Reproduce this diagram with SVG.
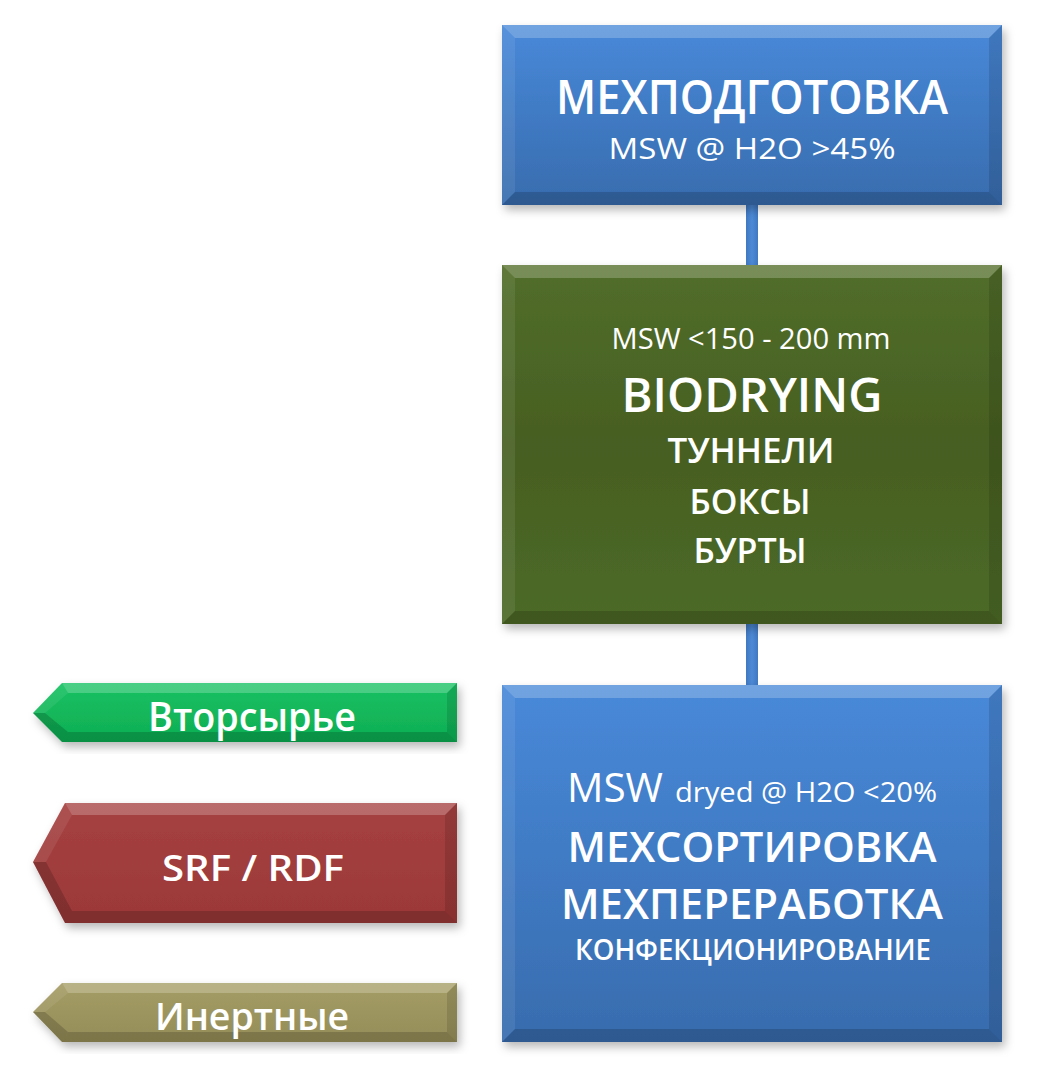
<svg xmlns="http://www.w3.org/2000/svg" width="1052" height="1089" viewBox="0 0 1052 1089">
<defs>
<filter id="sh" x="-10%" y="-10%" width="125%" height="130%">
<feDropShadow dx="3" dy="5" stdDeviation="5" flood-color="#000" flood-opacity="0.28"/>
</filter>
<linearGradient id="gBlue" x1="0" y1="0" x2="0" y2="1">
<stop offset="0" stop-color="#4889d9"/>
<stop offset="1" stop-color="#386cae"/>
</linearGradient>
<linearGradient id="gGreen" x1="0" y1="0" x2="0" y2="1">
<stop offset="0" stop-color="#526e2a"/>
<stop offset="0.5" stop-color="#465f22"/>
<stop offset="1" stop-color="#4d6a27"/>
</linearGradient>
<linearGradient id="gLime" x1="0" y1="0" x2="0" y2="1">
<stop offset="0" stop-color="#17c163"/>
<stop offset="1" stop-color="#0fae53"/>
</linearGradient>
<linearGradient id="gRed" x1="0" y1="0" x2="0" y2="1">
<stop offset="0" stop-color="#a64141"/>
<stop offset="1" stop-color="#9b3838"/>
</linearGradient>
<linearGradient id="gKhaki" x1="0" y1="0" x2="0" y2="1">
<stop offset="0" stop-color="#a59d66"/>
<stop offset="1" stop-color="#958d58"/>
</linearGradient>
<linearGradient id="gConn" x1="0" y1="0" x2="1" y2="0">
<stop offset="0" stop-color="#3f78c2"/>
<stop offset="0.5" stop-color="#4d8ad6"/>
<stop offset="1" stop-color="#3f78c2"/>
</linearGradient>
</defs>
<style>
.hi{fill:#ffffff;fill-opacity:0.22}
.hl{fill:#ffffff;fill-opacity:0.08}
.dr{fill:#000000;fill-opacity:0.12}
.db{fill:#000000;fill-opacity:0.17}
text{font-family:"Open Sans","Noto Sans","DejaVu Sans",sans-serif;fill:#ffffff;text-anchor:middle}
.r{font-weight:400}
.s{font-weight:600}
</style>
<rect width="1052" height="1089" fill="#ffffff"/>
<g id="connectors">
<rect x="746" y="205" width="12" height="60" fill="url(#gConn)"/>
<rect x="746" y="624" width="12" height="61" fill="url(#gConn)"/>
</g>
<g id="node-mechprep">
<rect x="502" y="25" width="500" height="180" fill="url(#gBlue)" filter="url(#sh)"/>
<polygon class="hi" points="502,25 1002,25 989,38 515,38"/>
<polygon class="hl" points="502,25 515,38 515,192 502,205"/>
<polygon class="dr" points="1002,25 1002,205 989,192 989,38"/>
<polygon class="db" points="502,205 1002,205 989,192 515,192"/>
<text class="s" x="752" y="114" font-size="47" textLength="392" lengthAdjust="spacingAndGlyphs">МЕХПОДГОТОВКА</text>
<text class="r" x="752" y="159" font-size="30" textLength="287" lengthAdjust="spacingAndGlyphs">MSW @ H2O &gt;45%</text>
</g>
<g id="node-biodrying">
<rect x="502" y="265" width="500" height="359" fill="url(#gGreen)" filter="url(#sh)"/>
<polygon class="hi" points="502,265 1002,265 989,278 515,278"/>
<polygon class="hl" points="502,265 515,278 515,611 502,624"/>
<polygon class="dr" points="1002,265 1002,624 989,611 989,278"/>
<polygon class="db" points="502,624 1002,624 989,611 515,611"/>
<text class="r" x="751" y="349" font-size="29" textLength="279" lengthAdjust="spacingAndGlyphs">MSW &lt;150 - 200 mm</text>
<text class="s" x="752" y="412" font-size="47" textLength="261" lengthAdjust="spacingAndGlyphs">BIODRYING</text>
<text class="s" x="751" y="463" font-size="35" textLength="167" lengthAdjust="spacingAndGlyphs">ТУННЕЛИ</text>
<text class="s" x="750" y="514" font-size="35" textLength="121" lengthAdjust="spacingAndGlyphs">БОКСЫ</text>
<text class="s" x="750" y="563" font-size="35" textLength="113" lengthAdjust="spacingAndGlyphs">БУРТЫ</text>
</g>
<g id="node-mechsort">
<rect x="502" y="685" width="500" height="357" fill="url(#gBlue)" filter="url(#sh)"/>
<polygon class="hi" points="502,685 1002,685 989,698 515,698"/>
<polygon class="hl" points="502,685 515,698 515,1029 502,1042"/>
<polygon class="dr" points="1002,685 1002,1042 989,1029 989,698"/>
<polygon class="db" points="502,1042 1002,1042 989,1029 515,1029"/>
<text class="r" x="615" y="802" font-size="40" textLength="96" lengthAdjust="spacingAndGlyphs">MSW</text>
<text class="r" x="806" y="802" font-size="28" textLength="262" lengthAdjust="spacingAndGlyphs">dryed @ H2O &lt;20%</text>
<text class="s" x="752" y="862" font-size="42" textLength="369" lengthAdjust="spacingAndGlyphs">МЕХСОРТИРОВКА</text>
<text class="s" x="752" y="919" font-size="41" textLength="382" lengthAdjust="spacingAndGlyphs">МЕХПЕРЕРАБОТКА</text>
<text class="s" x="753" y="960" font-size="29" textLength="356" lengthAdjust="spacingAndGlyphs">КОНФЕКЦИОНИРОВАНИЕ</text>
</g>
<g id="node-recyclables">
<polygon points="33,713 62,683 457,683 457,742 62,742" fill="url(#gLime)" filter="url(#sh)"/>
<polygon class="hi" points="62,683 457,683 447,693 68,693"/>
<polygon class="hl" points="33,713 62,683 68,693 45,713"/>
<polygon class="db" points="33,713 45,713 68,732 62,742"/>
<polygon class="dr" points="457,683 457,742 447,732 447,693"/>
<polygon class="db" points="62,742 457,742 447,732 68,732"/>
<text class="s" x="252" y="731" font-size="39" textLength="208" lengthAdjust="spacingAndGlyphs">Вторсырье</text>
</g>
<g id="node-srf">
<polygon points="33,862 65,803 457,803 457,923 65,923" fill="url(#gRed)" filter="url(#sh)"/>
<polygon class="hi" points="65,803 457,803 445,815 72,815"/>
<polygon class="hl" points="33,862 65,803 72,815 46,862"/>
<polygon class="db" points="33,862 46,862 72,911 65,923"/>
<polygon class="dr" points="457,803 457,923 445,911 445,815"/>
<polygon class="db" points="65,923 457,923 445,911 72,911"/>
<text class="s" x="253" y="881" font-size="36" textLength="182" lengthAdjust="spacingAndGlyphs">SRF / RDF</text>
</g>
<g id="node-inert">
<polygon points="33,1012 62,983 457,983 457,1042 62,1042" fill="url(#gKhaki)" filter="url(#sh)"/>
<polygon class="hi" points="62,983 457,983 447,993 68,993"/>
<polygon class="hl" points="33,1012 62,983 68,993 45,1012"/>
<polygon class="db" points="33,1012 45,1012 68,1032 62,1042"/>
<polygon class="dr" points="457,983 457,1042 447,1032 447,993"/>
<polygon class="db" points="62,1042 457,1042 447,1032 68,1032"/>
<text class="s" x="252" y="1030" font-size="38" textLength="194" lengthAdjust="spacingAndGlyphs">Инертные</text>
</g>
</svg>
